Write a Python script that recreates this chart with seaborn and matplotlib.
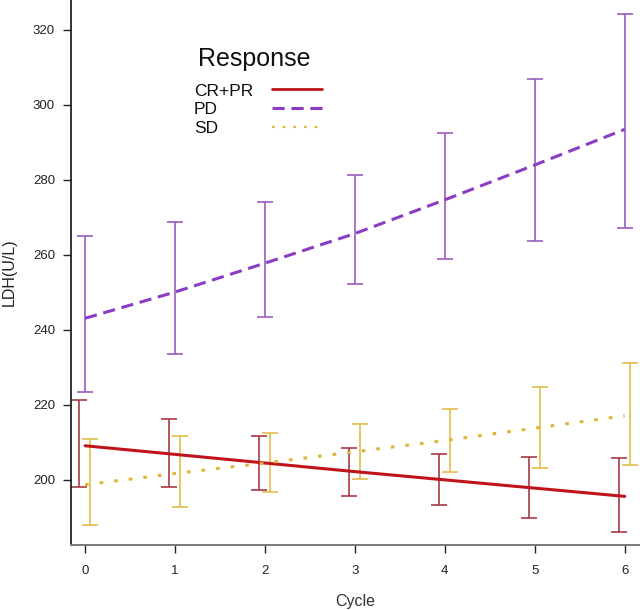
import numpy as np
import pandas as pd
import matplotlib
matplotlib.use("Agg")
import matplotlib.pyplot as plt
import seaborn as sns

# ---- data ----
cycles = [0, 1, 2, 3, 4, 5, 6]
groups = ["CR+PR", "PD", "SD"]

# fitted lines
crpr_fit = [209.1, 206.8, 204.5, 202.2, 200.0, 197.8, 195.6]
pd_fit = [243.1, 250.1, 257.8, 265.7, 274.7, 284.0, 293.5]
sd_fit = [198.7, 201.7, 204.5, 207.5, 210.5, 213.8, 217.1]

# error bar limits
crpr_low = [198.0, 198.0, 197.3, 195.8, 193.2, 189.8, 186.0]
crpr_high = [221.3, 216.2, 211.7, 208.6, 206.8, 206.2, 205.9]
pd_low = [223.4, 233.5, 243.5, 252.3, 258.8, 263.7, 267.3]
pd_high = [265.1, 268.7, 274.0, 281.4, 292.4, 307.0, 324.3]
sd_low = [188.0, 192.7, 196.7, 200.3, 202.2, 203.3, 204.1]
sd_high = [210.8, 211.6, 212.6, 215.0, 219.0, 224.9, 231.1]

line_colors = {"CR+PR": "#c0141c", "PD": "#8a3cc4", "SD": "#e0b43a"}
bar_colors = {"CR+PR": "#a83a44", "PD": "#9a5cc0", "SD": "#e2be4a"}
offsets = {"CR+PR": -0.065, "PD": 0.0, "SD": 0.055}
dash_styles = {"CR+PR": "", "PD": (4, 2.2), "SD": (1.2, 3.6)}

df = pd.DataFrame({
    "Cycle": cycles * 3,
    "LDH": crpr_fit + pd_fit + sd_fit,
    "Response": sum([[g] * len(cycles) for g in groups], []),
})
bars = {
    "CR+PR": (crpr_low, crpr_high),
    "PD": (pd_low, pd_high),
    "SD": (sd_low, sd_high),
}

sns.set_theme(style="ticks")
plt.rcParams["font.family"] = ["Liberation Sans", "DejaVu Sans"]

fig = plt.figure(figsize=(6.4, 6.1), dpi=100)
ax = fig.add_axes([0.111, 0.107, 0.889, 0.893])

# error bars first, lines on top
for g in groups:
    lo = np.array(bars[g][0])
    hi = np.array(bars[g][1])
    mid = (lo + hi) / 2
    xs = np.array(cycles) + offsets[g]
    ax.errorbar(xs, mid, yerr=[mid - lo, hi - mid], fmt="none",
                ecolor=bar_colors[g], elinewidth=1.2, capsize=5.5,
                capthick=1.2, zorder=2)

sns.lineplot(data=df, x="Cycle", y="LDH", hue="Response", style="Response",
             palette=line_colors, hue_order=groups, style_order=groups,
             dashes=dash_styles, linewidth=2.2, ax=ax, zorder=3, legend=False)

# legend: labels left, keys on the right (R style)
ax.text(0.223, 0.878, "Response", transform=ax.transAxes, fontsize=18,
        color="#111111", va="baseline", ha="left")
label_y = [0.824, 0.791, 0.755]
key_y = [0.837, 0.801, 0.767]
key_lw = {"CR+PR": 2.0, "PD": 2.2, "SD": 1.6}
for g, ty, ky in zip(groups, label_y, key_y):
    ax.text(0.216, ty, g, transform=ax.transAxes, fontsize=12.5,
            color="#111111", va="baseline", ha="left")
    kw = {} if g == "CR+PR" else {"dashes": dash_styles[g]}
    ax.plot([0.353, 0.441], [ky, ky], transform=ax.transAxes,
            color=line_colors[g], lw=key_lw[g], clip_on=False, **kw)

ax.set_xlim(-0.156, 6.17)
ax.set_ylim(182.7, 328)
ax.set_xticks(cycles)
ax.set_yticks([200, 220, 240, 260, 280, 300, 320])
ax.set_xlabel("Cycle", fontsize=11.5, color="#333333", labelpad=12)
ax.set_ylabel("LDH(U/L)", fontsize=11.5, color="#222222", labelpad=12)
ax.tick_params(axis="both", labelsize=9.5, length=5.5, width=1, colors="#222222")
ax.tick_params(axis="x", pad=9)
ax.tick_params(axis="y", pad=6)

sns.despine(ax=ax)
ax.spines["left"].set_color("#111111")
ax.spines["bottom"].set_color("#777777")
ax.spines["left"].set_linewidth(1.2)
ax.spines["bottom"].set_linewidth(1.4)

fig.savefig("out.png", dpi=100)
